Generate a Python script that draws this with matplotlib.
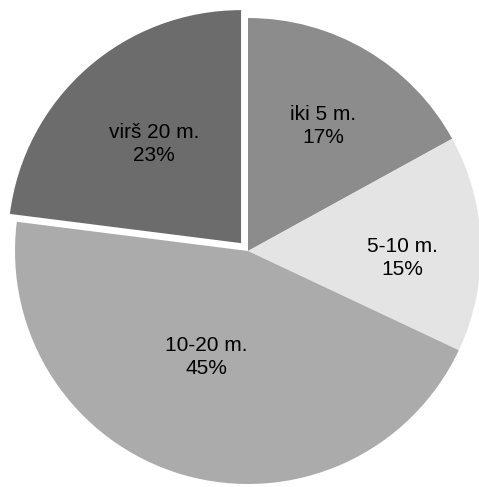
import matplotlib.pyplot as plt
import numpy as np

plt.rcParams['font.family'] = ['Liberation Sans', 'DejaVu Sans']

labels = ['iki 5 m.', '5-10 m.', '10-20 m.', 'virš 20 m.']
shares = [17, 15, 45, 23]
colors = ['#8c8c8c', '#e4e4e4', '#ababab', '#6c6c6c']
explode = [0, 0, 0, 0.045]
# label radius and angle shift (deg) from the wedge middle
label_r = [0.626, 0.662, 0.49, 0.566]
label_da = [-0.4, -4.4, -5.4, 0]

W, H = 479, 487
fig = plt.figure(figsize=(W / 100, H / 100), dpi=100)

# pie centre and radius measured in pixels of the reference
cx, cy, r = 248, 251, 233
ax = fig.add_axes([(cx - r) / W, (H - cy - r) / H, 2 * r / W, 2 * r / H])

wedges, _ = ax.pie(shares, colors=colors, explode=explode, startangle=90,
                   counterclock=False, radius=1,
                   wedgeprops=dict(linewidth=0))

for w, lab, val, lr, da in zip(wedges, labels, shares, label_r, label_da):
    ang = np.deg2rad((w.theta1 + w.theta2) / 2 + da)
    x0, y0 = w.center
    ax.text(x0 + lr * np.cos(ang), y0 + lr * np.sin(ang),
            f'{lab}\n{val}%', ha='center', va='center',
            fontsize=15, color='black', linespacing=1.25)

ax.set_xlim(-1, 1)
ax.set_ylim(-1, 1)
ax.set_aspect('auto')
ax.axis('off')

plt.savefig('out.png', dpi=100)
